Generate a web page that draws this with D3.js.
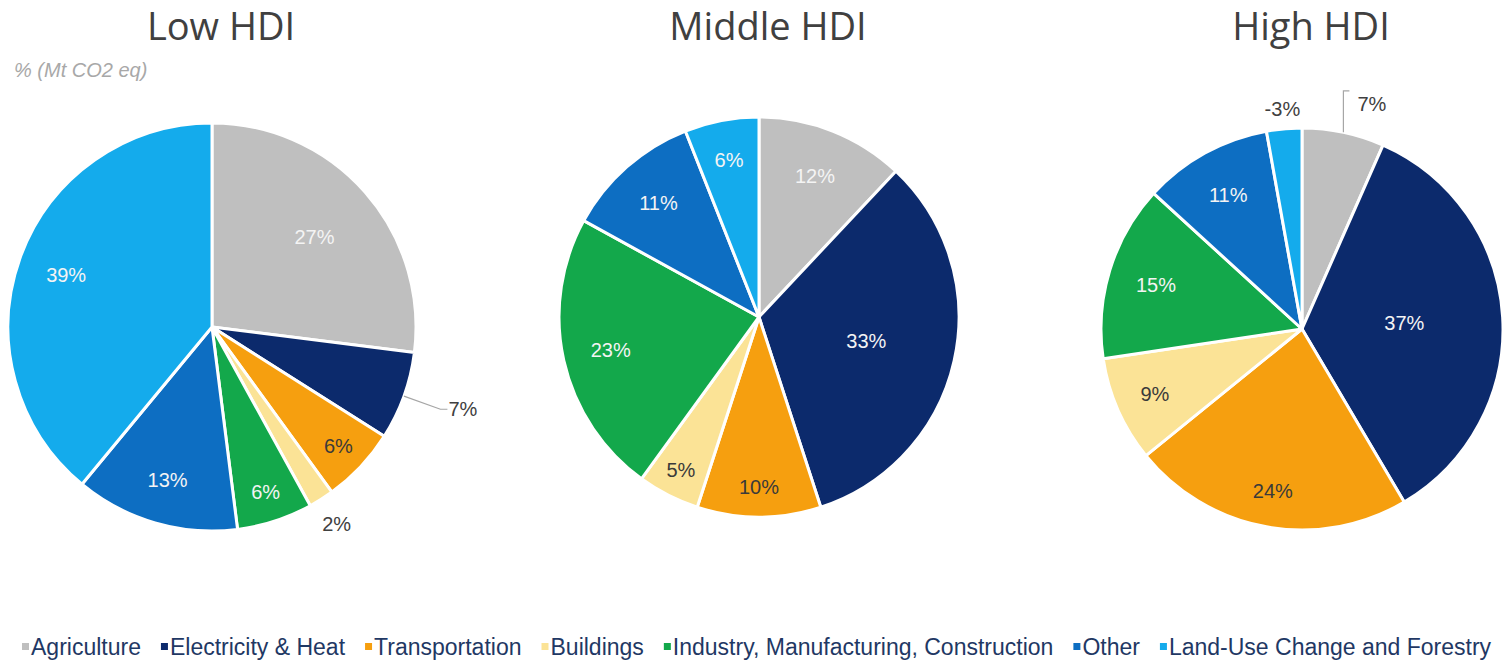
<!DOCTYPE html>
<html>
<head>
<meta charset="utf-8">
<script src="https://cdn.jsdelivr.net/npm/d3@7"></script>
<style>
  body { margin: 0; background: #fff; }
  svg { display: block; }
</style>
</head>
<body>
<div id="chart"></div>
<script>
"use strict";

// categories, in drawing order (clockwise from 12 o'clock)
const categories = ["Agriculture", "Electricity & Heat", "Transportation", "Buildings",
  "Industry, Manufacturing, Construction", "Other", "Land-Use Change and Forestry"];
const colors = ["#bfbfbf", "#0c2a6c", "#f69f0f", "#fbe396", "#13a84b", "#0d6ec2", "#14abec"];

const titles = ["Low HDI", "Middle HDI", "High HDI"];
// share of emissions, % (Mt CO2 eq)
const lowHDI    = [27, 7, 6, 2, 6, 13, 39];
const middleHDI = [12, 33, 10, 5, 23, 11, 6];
const highHDI   = [7, 37, 24, 9, 15, 11, -3];

const width = 1508, height = 660;

const svg = d3.select("#chart").append("svg")
  .attr("width", width)
  .attr("height", height);

// pie layout: centre and radius of each pie
let pies = [
  {title: titles[0], values: lowHDI,    cx: 212,  cy: 327, r: 204},
  {title: titles[1], values: middleHDI, cx: 759,  cy: 317, r: 200},
  {title: titles[2], values: highHDI,   cx: 1302, cy: 329, r: 201}
];

// label placement tweaks (fraction of radius), by pie index and category index
let labelRadius = {
  0: {0: 0.67, 2: 0.85, 4: 0.85, 5: 0.78},
  1: {1: 0.55, 2: 0.85, 3: 0.86, 6: 0.8},
  2: {1: 0.51, 2: 0.82, 3: 0.8}
};
// labels drawn outside the pie
let outside = {
  0: {1: {r: 1.19, leader: "radial"}, 3: {r: 1.14}},
  2: {0: {r: 1.16, leader: "vertical"}, 6: {r: 1.10}}
};
let darkText = [2, 3];

const pie = d3.pie()
  .value(d => Math.abs(d))
  .sort(null);

// subtitle (faded in the original)
svg.append("text")
  .attr("x", 14)
  .attr("y", 77)
  .style("font-family", "'Liberation Sans', Arial, sans-serif")
  .style("font-size", "20px")
  .style("font-style", "italic")
  .attr("fill", "#a8a8a8")
  .text("% (Mt CO2 eq)");

pies.forEach((p, pi) => {
  const g = svg.append("g")
    .attr("transform", `translate(${p.cx},${p.cy})`);

  const arcs = pie(p.values);
  const arc = d3.arc().innerRadius(0).outerRadius(p.r);

  g.selectAll("path.slice")
    .data(arcs)
    .enter()
    .append("path")
    .attr("class", "slice")
    .attr("d", arc)
    .attr("fill", (d, i) => colors[i])
    .attr("stroke", "#fff")
    .attr("stroke-width", 3)
    .attr("stroke-linejoin", "round");

  // title
  svg.append("text")
    .attr("x", p.cx + 9)
    .attr("y", 40)
    .attr("text-anchor", "middle")
    .style("font-family", "'Open Sans', sans-serif")
    .style("font-size", "38px")
    .attr("fill", "#404040")
    .text(p.title);

  arcs.forEach((d, i) => {
    const mid = (d.startAngle + d.endAngle) / 2;
    const out = outside[pi] && outside[pi][i];
    const label = d.data + "%";

    if (out) {
      const rr = p.r * out.r;
      let tx = Math.sin(mid) * rr;
      let ty = -Math.cos(mid) * rr;
      let anchor = "middle";
      if (out.leader === "radial") {
        const x0 = Math.sin(mid) * p.r, y0 = -Math.cos(mid) * p.r;
        g.append("polyline")
          .attr("points", [[x0, y0], [tx, ty], [tx + 7, ty]].map(q => q.join(",")).join(" "))
          .attr("fill", "none")
          .attr("stroke", "#a6a6a6")
          .attr("stroke-width", 1.2);
        tx = tx + 8;
        anchor = "start";
      } else if (out.leader === "vertical") {
        const x0 = Math.sin(mid) * p.r, y0 = -Math.cos(mid) * p.r;
        g.append("polyline")
          .attr("points", [[x0, y0], [x0, ty - 10], [x0 + 6, ty - 10]].map(q => q.join(",")).join(" "))
          .attr("fill", "none")
          .attr("stroke", "#a6a6a6")
          .attr("stroke-width", 1.2);
        tx = x0 + 14;
        ty = ty + 3;
        anchor = "start";
      }
      g.append("text")
        .attr("x", tx)
        .attr("y", ty)
        .attr("dy", "0.36em")
        .attr("text-anchor", anchor)
        .style("font-family", "'Liberation Sans', Arial, sans-serif")
        .style("font-size", "20px")
        .attr("fill", "#404040")
        .text(label);
    } else {
      const f = (labelRadius[pi] && labelRadius[pi][i]) || 0.76;
      const la = d3.arc().innerRadius(p.r * f).outerRadius(p.r * f);
      const c = la.centroid(d);
      g.append("text")
        .attr("x", c[0])
        .attr("y", c[1])
        .attr("dy", "0.36em")
        .attr("text-anchor", "middle")
        .style("font-family", "'Liberation Sans', Arial, sans-serif")
        .style("font-size", "20px")
        .attr("fill", darkText.includes(i) ? "#3a3a3a" : "#f4f4f4")
        .text(label);
    }
  });
});

// legend along the bottom
const legend = svg.append("g")
  .attr("transform", "translate(22,647)");

let lx = 0;
categories.forEach((c, i) => {
  const item = legend.append("g").attr("transform", `translate(${lx},0)`);
  item.append("rect")
    .attr("x", 0)
    .attr("y", -4)
    .attr("width", 7)
    .attr("height", 7)
    .attr("fill", colors[i]);
  const t = item.append("text")
    .attr("x", 9)
    .attr("y", 0)
    .attr("dy", "0.36em")
    .style("font-family", "'Liberation Sans', Arial, sans-serif")
    .style("font-size", "23px")
    .attr("fill", "#1f3864")
    .text(c);
  lx += 9 + t.node().getComputedTextLength() + 20;
});
</script>
</body>
</html>
